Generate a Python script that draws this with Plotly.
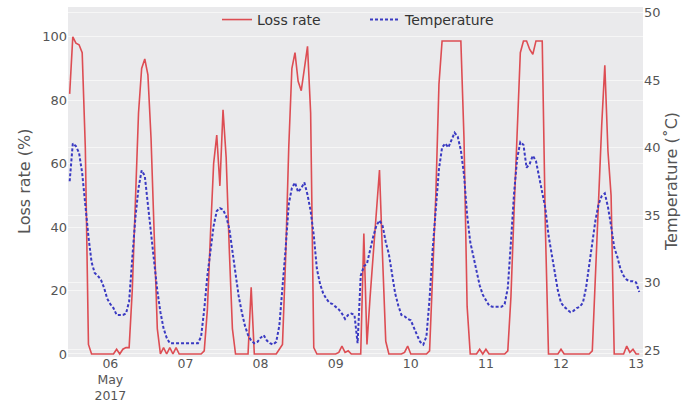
import pandas as pd
import plotly.graph_objects as go

# Hourly samples starting 2017-05-05 11:00
start_time = "2017-05-05 11:00"

loss_rate = [
    82, 100, 98, 97.5, 95, 65, 3, 0, 0, 0, 0, 0, 0, 0,            # h0-h13
    0, 1.5, 0, 1.5, 2, 2, 20, 48, 76, 90, 93, 88, 68, 38, 8, 0,   # h14-h29
    2, 0, 2, 0, 2, 0, 0, 0, 0, 0, 0, 0, 0,                         # h30-h42
    1, 14, 38, 60, 69, 53, 77, 62, 33, 8, 0,                       # h43-h53
    0, 0, 0, 0, 21, 0, 0, 0, 0, 0, 0, 0, 0,                        # h54-h66
    1.5, 3, 30, 65, 90, 95, 86, 83, 90, 97, 76, 2,                 # h67-h78
    0, 0, 0, 0, 0, 0, 0, 0.5, 2.5, 0.5, 1, 0, 0, 0, 0,             # h79-h93
    38, 3, 18, 32, 46, 58, 30, 4, 0,                               # h94-h102
    0, 0, 0, 0, 0.5, 2.5, 0, 0, 0, 0, 0, 0,                        # h103-h114
    1, 25, 50, 85, 98.7, 98.7, 98.7, 98.7, 98.7, 98.7, 98.7,       # h115-h125
    68, 15, 0, 0, 0, 1.5, 0, 1.5, 0, 0, 0, 0, 0, 0,                # h126-h139
    1, 18, 45, 72, 95, 98.7, 98.7, 96, 94.5, 98.7, 98.7, 98.7,     # h140-h151
    40, 0, 0, 0, 0, 1.5, 0, 0, 0, 0, 0, 0, 0, 0, 0,                # h152-h166
    1, 25, 50, 72, 91, 64, 50, 0, 0, 0, 0, 2.5, 0.5, 1.5, 0, 0,    # h167-h182
]

temperature = [
    37.5, 40.3, 40.1, 39.6, 38.1, 35.5, 33.4, 31.5, 30.7, 30.5, 30.2, 29.6, 28.8, 28.4,
    28.1, 27.6, 27.6, 27.6, 27.7, 28.6, 31.8, 34.8, 37.0, 38.3, 37.9, 35.8, 33.5, 31.4, 29.4, 27.8,
    26.6, 25.9, 25.5, 25.5, 25.5, 25.5, 25.5, 25.5, 25.5, 25.5, 25.5, 25.5, 26.0,
    28.0, 30.5, 32.6, 34.2, 35.3, 35.5, 35.4, 34.9, 34.0, 32.4, 30.6,
    29.0, 27.8, 26.8, 26.1, 25.7, 25.5, 25.6, 25.9, 26.1, 25.7, 25.5, 25.4, 25.6,
    26.8, 29.5, 32.5, 35.8, 37.0, 37.4, 36.7, 37.0, 37.4, 36.5, 35.3, 33.5,
    31.0, 29.9, 29.2, 28.8, 28.5, 28.4, 28.2, 28.0, 27.7, 27.3, 27.6, 27.7, 27.6, 25.5, 30.5,
    31.2, 31.4, 32.5, 33.4, 34.2, 34.6, 34.2, 33.0, 32.1,
    30.8, 29.2, 28.3, 27.6, 27.5, 27.3, 27.2, 26.6, 26.1, 25.6, 25.4, 26.0,
    28.8, 32.5, 35.6, 38.4, 40.0, 40.3, 40.0, 40.6, 41.1, 40.8, 39.8,
    38.0, 35.0, 33.0, 31.9, 30.8, 29.8, 29.1, 28.7, 28.3, 28.2, 28.2, 28.2, 28.2, 28.4,
    29.6, 33.0, 36.6, 39.2, 40.4, 40.2, 38.5, 38.8, 39.4, 39.0, 37.8, 36.6,
    35.5, 33.5, 32.2, 30.9, 29.4, 28.5, 28.2, 28.0, 27.8, 27.9, 28.1, 28.2, 28.5, 29.6, 31.4,
    33.0, 34.6, 35.8, 36.4, 36.6, 35.6, 34.2, 32.6, 31.9, 31.0, 30.5, 30.2, 30.1, 30.1, 30.0, 29.3,
]

times = pd.date_range(start_time, periods=len(loss_rate), freq="h")

day_ticks = ["2017-05-06", "2017-05-07", "2017-05-08", "2017-05-09",
             "2017-05-10", "2017-05-11", "2017-05-12", "2017-05-13"]
day_labels = ["06<br>May<br>2017", "07", "08", "09", "10", "11", "12", "13"]

loss_ticks = [0, 20, 40, 60, 80, 100]
temp_ticks = [25, 30, 35, 40, 45, 50]

FONT = "DejaVu Sans"
TICK_COLOR = "#555555"
GRID = "rgba(255,255,255,0.55)"

fig = go.Figure()
fig.add_trace(go.Scatter(
    x=times, y=loss_rate, name="Loss rate", mode="lines",
    line=dict(color="#dd4d53", width=1.6),
))
fig.add_trace(go.Scatter(
    x=times, y=temperature, name="Temperature", mode="lines", yaxis="y2",
    line=dict(color="#3a3ac2", width=2, dash="3px,2px"),
))

fig.update_layout(
    width=683, height=403,
    margin=dict(l=68, r=40, t=7, b=46, autoexpand=False),
    paper_bgcolor="white",
    plot_bgcolor="#eaeaec",
    font=dict(family=FONT, size=13, color=TICK_COLOR),
    showlegend=True,
    legend=dict(
        orientation="h", x=(217 - 68) / 575, xanchor="left", y=0.963, yanchor="middle",
        bgcolor="rgba(0,0,0,0)", font=dict(family=FONT, size=14, color="#333333"),
        itemwidth=30, entrywidth=103, entrywidthmode="pixels",
    ),
    xaxis=dict(
        type="date", automargin=False,
        range=["2017-05-05 10:28", "2017-05-13 02:12"],
        tickvals=day_ticks, ticktext=day_labels,
        showgrid=False, zeroline=False, showline=False, ticks="",
        ticklabelstandoff=-3,
        tickfont=dict(family=FONT, size=12.5, color=TICK_COLOR),
    ),
    yaxis=dict(
        automargin=False,
        range=[-0.95, 109.4], tickvals=loss_ticks,
        showgrid=True, gridcolor=GRID, gridwidth=1,
        zeroline=False, showline=False, ticks="",
        tickfont=dict(family=FONT, size=13, color=TICK_COLOR),
    ),
    yaxis2=dict(
        automargin=False,
        overlaying="y", side="right",
        range=[24.48, 50.41], tickvals=temp_ticks,
        showgrid=True, gridcolor=GRID, gridwidth=1,
        zeroline=False, showline=False, ticks="",
        tickfont=dict(family=FONT, size=13, color=TICK_COLOR),
    ),
    annotations=[
        dict(text="Loss rate (%)", xref="paper", yref="paper",
             x=(24 - 68) / 575, y=0.5, xanchor="center", yanchor="middle",
             textangle=-90, showarrow=False,
             font=dict(family=FONT, size=16, color=TICK_COLOR)),
        dict(text="Temperature (\u02daC)", xref="paper", yref="paper",
             x=(671 - 68) / 575, y=0.5, xanchor="center", yanchor="middle",
             textangle=-90, showarrow=False,
             font=dict(family=FONT, size=16, color=TICK_COLOR)),
    ],
)

fig.write_html("out.html", config={"displayModeBar": False},
               post_script="document.body.style.margin='0px';")
